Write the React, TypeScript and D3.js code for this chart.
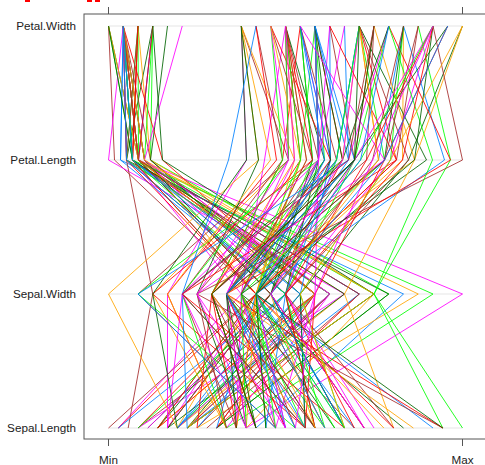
import React from 'react';
import * as d3 from 'd3';

const sepalLength = [5.1,4.9,4.7,4.6,5.0,5.4,4.6,5.0,4.4,4.9,5.4,4.8,4.8,4.3,5.8,5.7,5.4,5.1,5.7,5.1,5.4,5.1,4.6,5.1,4.8,5.0,5.0,5.2,5.2,4.7,4.8,5.4,5.2,5.5,4.9,5.0,5.5,4.9,4.4,5.1,5.0,4.5,4.4,5.0,5.1,4.8,5.1,4.6,5.3,5.0,7.0,6.4,6.9,5.5,6.5,5.7,6.3,4.9,6.6,5.2,5.0,5.9,6.0,6.1,5.6,6.7,5.6,5.8,6.2,5.6,5.9,6.1,6.3,6.1,6.4,6.6,6.8,6.7,6.0,5.7,5.5,5.5,5.8,6.0,5.4,6.0,6.7,6.3,5.6,5.5,5.5,6.1,5.8,5.0,5.6,5.7,5.7,6.2,5.1,5.7,6.3,5.8,7.1,6.3,6.5,7.6,4.9,7.3,6.7,7.2,6.5,6.4,6.8,5.7,5.8,6.4,6.5,7.7,7.7,6.0,6.9,5.6,7.7,6.3,6.7,7.2,6.2,6.1,6.4,7.2,7.4,7.9,6.4,6.3,6.1,7.7,6.3,6.4,6.0,6.9,6.7,6.9,5.8,6.8,6.7,6.7,6.3,6.5,6.2,5.9];
const sepalWidth = [3.5,3.0,3.2,3.1,3.6,3.9,3.4,3.4,2.9,3.1,3.7,3.4,3.0,3.0,4.0,4.4,3.9,3.5,3.8,3.8,3.4,3.7,3.6,3.3,3.4,3.0,3.4,3.5,3.4,3.2,3.1,3.4,4.1,4.2,3.1,3.2,3.5,3.6,3.0,3.4,3.5,2.3,3.2,3.5,3.8,3.0,3.8,3.2,3.7,3.3,3.2,3.2,3.1,2.3,2.8,2.8,3.3,2.4,2.9,2.7,2.0,3.0,2.2,2.9,2.9,3.1,3.0,2.7,2.2,2.5,3.2,2.8,2.5,2.8,2.9,3.0,2.8,3.0,2.9,2.6,2.4,2.4,2.7,2.7,3.0,3.4,3.1,2.3,3.0,2.5,2.6,3.0,2.6,2.3,2.7,3.0,2.9,2.9,2.5,2.8,3.3,2.7,3.0,2.9,3.0,3.0,2.5,2.9,2.5,3.6,3.2,2.7,3.0,2.5,2.8,3.2,3.0,3.8,2.6,2.2,3.2,2.8,2.8,2.7,3.3,3.2,2.8,3.0,2.8,3.0,2.8,3.8,2.8,2.8,2.6,3.0,3.4,3.1,3.0,3.1,3.1,3.1,2.7,3.2,3.3,3.0,2.5,3.0,3.4,3.0];
const petalLength = [1.4,1.4,1.3,1.5,1.4,1.7,1.4,1.5,1.4,1.5,1.5,1.6,1.4,1.1,1.2,1.5,1.3,1.4,1.7,1.5,1.7,1.5,1.0,1.7,1.9,1.6,1.6,1.5,1.4,1.6,1.6,1.5,1.5,1.4,1.5,1.2,1.3,1.4,1.3,1.5,1.3,1.3,1.3,1.6,1.9,1.4,1.6,1.4,1.5,1.4,4.7,4.5,4.9,4.0,4.6,4.5,4.7,3.3,4.6,3.9,3.5,4.2,4.0,4.7,3.6,4.4,4.5,4.1,4.5,3.9,4.8,4.0,4.9,4.7,4.3,4.4,4.8,5.0,4.5,3.5,3.8,3.7,3.9,5.1,4.5,4.5,4.7,4.4,4.1,4.0,4.4,4.6,4.0,3.3,4.2,4.2,4.2,4.3,3.0,4.1,6.0,5.1,5.9,5.6,5.8,6.6,4.5,6.3,5.8,6.1,5.1,5.3,5.5,5.0,5.1,5.3,5.5,6.7,6.9,5.0,5.7,4.9,6.7,4.9,5.7,6.0,4.8,4.9,5.6,5.8,6.1,6.4,5.6,5.1,5.6,6.1,5.6,5.5,4.8,5.4,5.6,5.1,5.1,5.9,5.7,5.2,5.0,5.2,5.4,5.1];
const petalWidth = [0.2,0.2,0.2,0.2,0.2,0.4,0.3,0.2,0.2,0.1,0.2,0.2,0.1,0.1,0.2,0.4,0.4,0.3,0.3,0.3,0.2,0.4,0.2,0.5,0.2,0.2,0.4,0.2,0.2,0.2,0.2,0.4,0.1,0.2,0.2,0.2,0.2,0.1,0.2,0.2,0.3,0.3,0.2,0.6,0.4,0.3,0.2,0.2,0.2,0.2,1.4,1.5,1.5,1.3,1.5,1.3,1.6,1.0,1.3,1.4,1.0,1.5,1.0,1.4,1.3,1.4,1.5,1.0,1.5,1.1,1.8,1.3,1.5,1.2,1.3,1.4,1.4,1.7,1.5,1.0,1.1,1.0,1.2,1.6,1.5,1.6,1.5,1.3,1.3,1.3,1.2,1.4,1.2,1.0,1.3,1.2,1.3,1.3,1.1,1.3,2.5,1.9,2.1,1.8,2.2,2.1,1.7,1.8,1.8,2.5,2.0,1.9,2.1,2.0,2.4,2.3,1.8,2.2,2.3,1.5,2.3,2.0,2.0,1.8,2.1,1.8,1.8,1.8,2.1,1.6,1.9,2.0,2.2,1.5,1.4,2.3,2.4,1.8,1.8,2.1,2.4,2.3,1.9,2.3,2.5,2.3,1.9,2.0,2.3,1.8];

const variables = ['Sepal.Length', 'Sepal.Width', 'Petal.Length', 'Petal.Width'];
const columns = [sepalLength, sepalWidth, petalLength, petalWidth];
const lineColors = ['#0080ff', '#ff00ff', '#006400', '#ff0000', '#ffa500', '#00ff00', '#a52a2a'];
const xTicks = ['Min', 'Max'];

const box = { left: 84, right: 487, top: 14, bottom: 439 };
const labelFont = '"Liberation Sans", Arial, sans-serif';

// what is left of the title, which the screenshot cuts off at the top edge
const titleScraps = [[25, 5], [87, 5], [95, 5]];

const App: React.FC = () => {
  // each variable gets its own min-max scale onto the same horizontal range
  const xScales = columns.map((col) =>
    d3.scaleLinear().domain(d3.extent(col) as [number, number]).range([108.5, 462.5])
  );
  const yScale = d3.scalePoint<string>().domain(variables).range([428, 26]);

  const line = d3.line<number>()
    .x((d, i) => xScales[i](d))
    .y((d, i) => yScale(variables[i]) as number);

  const tickX = d3.scalePoint<string>().domain(xTicks).range([108.5, 462.5]);

  return (
    <svg width={485} height={465} style={{ position: 'absolute', left: 0, top: 0, display: 'block' }}>
      <rect width={485} height={465} fill="#fff" />
      {titleScraps.map(([x, w]) => (
        <rect key={x} x={x} y={0} width={w} height={2} fill="#ff0000" />
      ))}
      {variables.map((v) => (
        <line key={v} x1={108.5} x2={462.5} y1={yScale(v)} y2={yScale(v)} stroke="#eeeeee" strokeWidth={1.5} />
      ))}
      {sepalLength.map((_, row) => (
        <path
          key={row}
          d={line(columns.map((col) => col[row])) as string}
          fill="none"
          stroke={lineColors[row % lineColors.length]}
          strokeWidth={1}
          strokeOpacity={0.85}
        />
      ))}
      <rect
        x={box.left}
        y={box.top}
        width={box.right - box.left}
        height={box.bottom - box.top}
        fill="none"
        stroke="#555"
        strokeWidth={1}
      />
      {xTicks.map((t) => (
        <g key={t} stroke="#555">
          <line x1={tickX(t)} x2={tickX(t)} y1={7} y2={box.top} />
          <line x1={tickX(t)} x2={tickX(t)} y1={box.bottom} y2={446} />
        </g>
      ))}
      {xTicks.map((t) => (
        <text key={t} x={tickX(t)} y={463.5} textAnchor="middle" fontFamily={labelFont} fontSize={11.7} fill="#222">
          {t}
        </text>
      ))}
      {variables.map((v) => (
        <text key={v} x={76} y={(yScale(v) as number) + 4} textAnchor="end" fontFamily={labelFont} fontSize={11.7} fill="#222">
          {v}
        </text>
      ))}
    </svg>
  );
};

export default App;
